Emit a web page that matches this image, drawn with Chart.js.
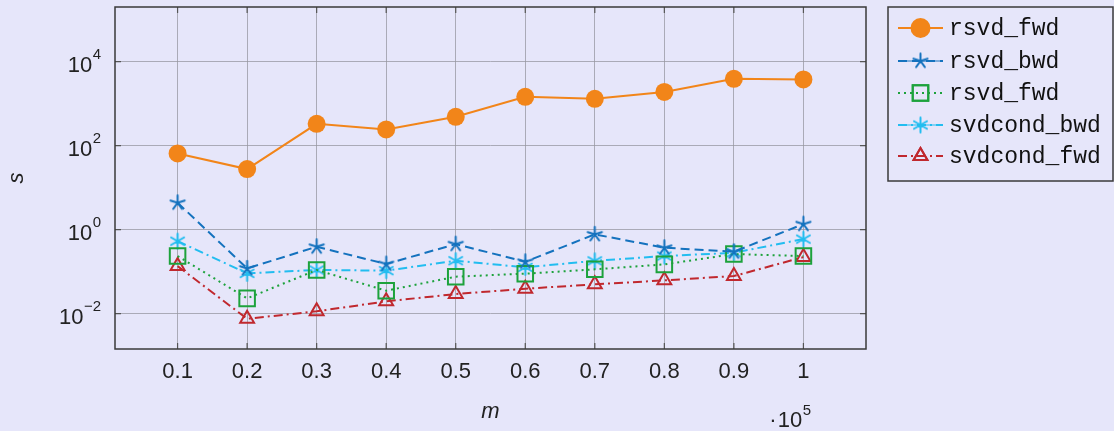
<!DOCTYPE html>
<html>
<head>
<meta charset="utf-8">
<script src="https://cdn.jsdelivr.net/npm/chart.js@4.4.1/dist/chart.umd.min.js"></script>
<style>
  html, body { margin: 0; padding: 0; background: #E6E6FA; }
  canvas { display: block; }
</style>
</head>
<body>
<canvas id="c" width="1114" height="431"></canvas>
<script>
// m in units of 10^5
const m = [0.1, 0.2, 0.3, 0.4, 0.5, 0.6, 0.7, 0.8, 0.9, 1.0];
const xTicks = [0.1, 0.2, 0.3, 0.4, 0.5, 0.6, 0.7, 0.8, 0.9, 1.0];
const yTicks = [1e-2, 1e0, 1e2, 1e4];
const yTickExps = ["\u22122", "0", "2", "4"];

const seriesNames = ["rsvd_fwd", "rsvd_bwd", "rsvd_fwd", "svdcond_bwd", "svdcond_fwd"];
const rsvdFwd = [65, 27.6, 330, 243, 485, 1450, 1300, 1900, 3900, 3770];
const rsvdBwd = [4.35, 0.119, 0.39, 0.151, 0.45, 0.171, 0.77, 0.37, 0.296, 1.35];
const rsvdFwd2 = [0.234, 0.023, 0.109, 0.035, 0.0755, 0.089, 0.113, 0.148, 0.261, 0.234];
const svdcondBwd = [0.53, 0.0906, 0.109, 0.105, 0.181, 0.126, 0.18, 0.234, 0.28, 0.594];
const svdcondFwd = [0.135, 0.0075, 0.0113, 0.0195, 0.0291, 0.039, 0.0496, 0.0617, 0.078, 0.221];

const ORANGE = "#F28519";
const BLUE = "#1472BE";
const GREEN = "#1DA23C";
const CYAN = "#22BDF0";
const RED = "#C0282E";
const TEXT = "#222";
const FONT = "'Liberation Sans'";

// spoked marks (pgfplots "star" has 5 arms, "asterisk" has 6)
function spokes(n, r, color) {
  const c = document.createElement("canvas");
  c.width = c.height = Math.ceil(2 * r + 4);
  const g = c.getContext("2d");
  const cx = c.width / 2;
  g.strokeStyle = color;
  g.lineWidth = 2;
  g.lineCap = "round";
  g.beginPath();
  for (let i = 0; i < n; i++) {
    const a = (i * 2 * Math.PI) / n;
    g.moveTo(cx, cx);
    g.lineTo(cx + Math.sin(a) * r, cx - Math.cos(a) * r);
  }
  g.stroke();
  return c;
}
const starMark = spokes(5, 7.5, BLUE);
const asteriskMark = spokes(6, 7.5, CYAN);

const pts = (vals) => m.map((x, i) => ({ x: x, y: vals[i] }));

const datasets = [
  { label: seriesNames[0], data: pts(rsvdFwd), borderColor: ORANGE, backgroundColor: ORANGE,
    borderWidth: 2, pointStyle: "circle", pointRadius: 9, pointBorderWidth: 0 },
  { label: seriesNames[1], data: pts(rsvdBwd), borderColor: BLUE, backgroundColor: BLUE,
    borderWidth: 2, borderDash: [9, 5], pointStyle: starMark, pointRadius: 8 },
  { label: seriesNames[2], data: pts(rsvdFwd2), borderColor: GREEN, backgroundColor: "rgba(0,0,0,0)",
    borderWidth: 2, borderDash: [2, 4], pointStyle: "rect", pointRadius: 11, pointBorderWidth: 2 },
  { label: seriesNames[3], data: pts(svdcondBwd), borderColor: CYAN, backgroundColor: CYAN,
    borderWidth: 2, borderDash: [9, 4, 2, 4], pointStyle: asteriskMark, pointRadius: 8 },
  { label: seriesNames[4], data: pts(svdcondFwd), borderColor: RED, backgroundColor: "rgba(0,0,0,0)",
    borderWidth: 2, borderDash: [9, 4, 2, 4], pointStyle: "triangle", pointRadius: 8, pointBorderWidth: 2 },
];

// base with raised exponent, right edge at x
function power(ctx, exp, x, y, size) {
  ctx.font = Math.round(size * 0.7) + "px " + FONT;
  const ew = ctx.measureText(exp).width;
  ctx.textAlign = "right";
  ctx.textBaseline = "middle";
  ctx.fillText(exp, x, y - size * 0.48);
  ctx.font = size + "px " + FONT;
  ctx.fillText("10", x - ew - 0.5, y);
  return x - ew - 0.5 - ctx.measureText("10").width;
}

// frame, inner tick marks, y labels, the x multiplier and the legend box
const decorations = {
  id: "decorations",
  afterDraw(chart) {
    const ctx = chart.ctx;
    const a = chart.chartArea;
    const xs = chart.scales.x, ys = chart.scales.y;
    ctx.save();
    ctx.strokeStyle = "#555";
    ctx.lineWidth = 1.2;
    ctx.beginPath();
    xTicks.forEach((v) => {
      const px = xs.getPixelForValue(v);
      ctx.moveTo(px, a.bottom); ctx.lineTo(px, a.bottom - 6);
      ctx.moveTo(px, a.top); ctx.lineTo(px, a.top + 6);
    });
    yTicks.forEach((v) => {
      const py = ys.getPixelForValue(v);
      ctx.moveTo(a.left, py); ctx.lineTo(a.left + 6, py);
      ctx.moveTo(a.right, py); ctx.lineTo(a.right - 6, py);
    });
    ctx.stroke();
    ctx.strokeStyle = "#3a3a3a";
    ctx.lineWidth = 1.5;
    ctx.strokeRect(a.left, a.top, a.right - a.left, a.bottom - a.top);

    ctx.fillStyle = TEXT;
    yTicks.forEach((v, i) => {
      power(ctx, yTickExps[i], a.left - 14, ys.getPixelForValue(v) + 4, 22);
    });

    const left = power(ctx, "5", 811, 421, 22);
    ctx.textAlign = "right";
    ctx.fillText("\u00B7", left - 1, 421);

    // legend
    const lx = 888, ly = 7, lw = 225, lh = 174;
    ctx.strokeStyle = "#3a3a3a";
    ctx.lineWidth = 1.5;
    ctx.strokeRect(lx, ly, lw, lh);
    const rows = [28, 61, 93, 125, 156];
    chart.data.datasets.forEach((ds, i) => {
      const y = rows[i];
      ctx.save();
      ctx.strokeStyle = ds.borderColor;
      ctx.lineWidth = ds.borderWidth;
      ctx.setLineDash(ds.borderDash || []);
      ctx.beginPath();
      ctx.moveTo(898, y); ctx.lineTo(943, y);
      ctx.stroke();
      ctx.setLineDash([]);
      ctx.fillStyle = ds.backgroundColor;
      ctx.lineWidth = ds.pointBorderWidth === undefined ? 1 : ds.pointBorderWidth;
      Chart.helpers.drawPoint(ctx, { pointStyle: ds.pointStyle, radius: ds.pointRadius, rotation: 0,
        borderWidth: ctx.lineWidth }, 920.5, y);
      if (ds.pointBorderWidth !== 0) ctx.stroke();
      ctx.restore();
      ctx.fillStyle = "#111";
      ctx.font = "23px 'Liberation Mono'";
      ctx.textAlign = "left";
      ctx.textBaseline = "middle";
      ctx.fillText(ds.label, 949, y + 1);
    });
    ctx.restore();
  },
};

new Chart(document.getElementById("c"), {
  type: "line",
  data: { datasets: datasets },
  plugins: [decorations],
  options: {
    responsive: false,
    animation: false,
    devicePixelRatio: 1,
    layout: { autoPadding: false, padding: { top: 7, right: 248, left: 0, bottom: 0 } },
    plugins: { legend: { display: false }, tooltip: { enabled: false } },
    scales: {
      x: {
        type: "linear",
        min: 0.01,
        max: 1.09,
        afterFit: (s) => { s.height = 82; s.paddingLeft = 0; s.paddingRight = 0; },
        afterBuildTicks: (s) => { s.ticks = xTicks.map((v) => ({ value: v })); },
        ticks: {
          padding: 10,
          color: TEXT,
          font: { family: FONT, size: 22 },
          callback: (v) => String(Number(v.toFixed(1))),
          maxRotation: 0,
        },
        grid: { color: "rgba(150,150,160,0.75)", lineWidth: 1, drawTicks: false },
        border: { display: false },
        title: { display: true, text: "m", color: TEXT,
          font: { family: FONT, size: 22, style: "italic" }, padding: { top: 0, bottom: 6 } },
      },
      y: {
        type: "logarithmic",
        min: 0.00143,
        max: 200000,
        afterFit: (s) => { s.width = 115; s.paddingTop = 0; s.paddingBottom = 0; },
        afterBuildTicks: (s) => { s.ticks = yTicks.map((v) => ({ value: v })); },
        ticks: { display: false },
        grid: { color: "rgba(150,150,160,0.75)", lineWidth: 1, drawTicks: false },
        border: { display: false },
        title: { display: true, text: "s", color: TEXT,
          font: { family: FONT, size: 22, style: "italic" }, padding: { top: 4, bottom: 0 } },
      },
    },
  },
});
</script>
</body>
</html>
